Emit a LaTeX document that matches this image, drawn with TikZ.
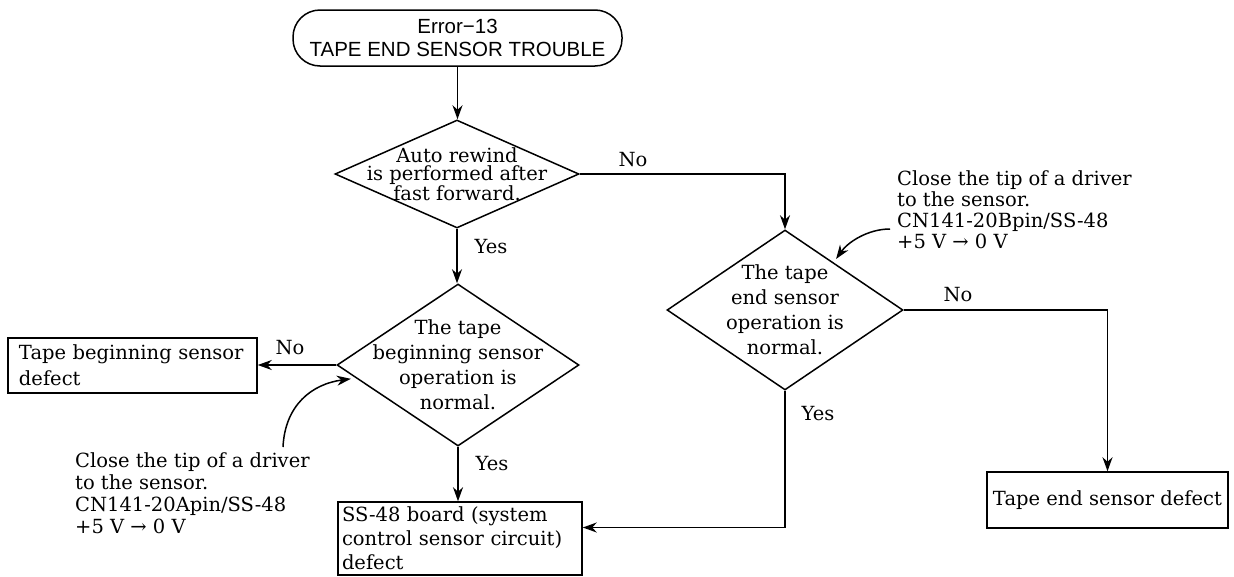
\documentclass[tikz,border=0pt]{standalone}
\usepackage{fontspec}
\newfontfamily\termfont{Liberation Sans}
\newfontfamily\serf{DejaVu Serif}
\usetikzlibrary{shapes.geometric,arrows.meta,calc}
\newcommand\mytxt[1][23]{\serf\fontsize{19.5}{#1}\selectfont}
\begin{document}
\begin{tikzpicture}[x=1pt,y=-1pt,
  every node/.style={font={\mytxt}},
  ln/.style={line width=1.5pt},
  arr/.style={ln,-{Stealth[length=14pt,width=10pt,inset=4.5pt]}},
  dia/.style={diamond,draw,line width=1.5pt,inner sep=0pt},
  box/.style={rectangle,draw,line width=1.5pt,inner sep=0pt},
  term/.style={rectangle,draw,line width=1.5pt,rounded corners=27pt,minimum width=329pt,minimum height=56pt,align=center,inner sep=0pt,font={\termfont\fontsize{20.5}{23}\selectfont}},
  lbl/.style={inner sep=0pt},
  note/.style={anchor=north west,align=left,inner sep=0pt}
]
\useasboundingbox (0,0) rectangle (1234,576);

% terminal
\node[term] (t) at (457.5,38) {Error−13\\TAPE END SENSOR TROUBLE};

% decisions
\node[dia,minimum width=244pt,minimum height=108pt] (d1) at (457,174) {};
\node[align=center,inner sep=0pt,font={\mytxt[18.5]}] (d1t) at (d1.center) {Auto rewind\\is performed after\\fast forward.};

\node[dia,minimum width=242pt,minimum height=162pt] (d2) at (458,365) {};
\node[align=center,inner sep=0pt,font={\mytxt[25]}] (d2t) at (d2.center) {The tape\\beginning sensor\\operation is\\normal.};

\node[dia,minimum width=236pt,minimum height=160pt] (d3) at (785,310) {};
\node[align=center,inner sep=0pt,font={\mytxt[25]}] (d3t) at (d3.center) {The tape\\end sensor\\operation is\\normal.};

% result boxes
\node[box,minimum width=249pt,minimum height=55pt,text width=227pt,align=left,font={\mytxt[26]}] (tb) at (132.5,365.5) {Tape beginning sensor\\defect};
\node[box,minimum width=244pt,minimum height=73pt,text width=236pt,align=left,font={\mytxt[24]}] (ss) at (460,538.5) {SS-48 board (system\\control sensor circuit)\\defect};
\node[box,minimum width=241pt,minimum height=56pt,align=center] (te) at (1107.5,500) {Tape end sensor defect};

% notes
\node[note,font={\mytxt[22]}] (lt) at (75,452) {Close the tip of a driver\\to the sensor.\\CN141-20Apin/SS-48\\+5 V → 0 V};
\node[note,font={\mytxt[21]}] (rt) at (897,170) {Close the tip of a driver\\to the sensor.\\CN141-20Bpin/SS-48\\+5 V → 0 V};

% connectors
\draw[arr] (t.south) -- (t.south |- d1.north);
\draw[arr] (d1.south) -- (d1.south |- d2.north);
\draw[arr] (d1.east) -| (d3.north);
\draw[arr] (d2.west) -- (d2.west -| tb.east);
\draw[arr] (d2.south) -- (d2.south |- ss.north);
\draw[arr] (d3.south) |- ([yshift=11pt]ss.east);
\draw[arr] (d3.east) -| (te.north);

% pointer curves
\coordinate (lc) at (283,447);
\draw[arr] (lc) .. controls (285,405) and (312,384) .. ($(d2.west)!0.12!(d2.south)+(0,4)$);
\coordinate (rc) at (890,229);
\draw[arr] (rc) .. controls (868,229) and (848,242) .. ($(d3.north)!0.43!(d3.east)+(0,-5)$);

% labels
\node[lbl] (no1) at (633,160) {No};
\node[lbl] (yes1) at (491,247) {Yes};
\node[lbl] (no2) at (290,348) {No};
\node[lbl] (yes2) at (492,464) {Yes};
\node[lbl] (yes3) at (818,414) {Yes};
\node[lbl] (no3) at (958,295) {No};
\end{tikzpicture}
\end{document}
